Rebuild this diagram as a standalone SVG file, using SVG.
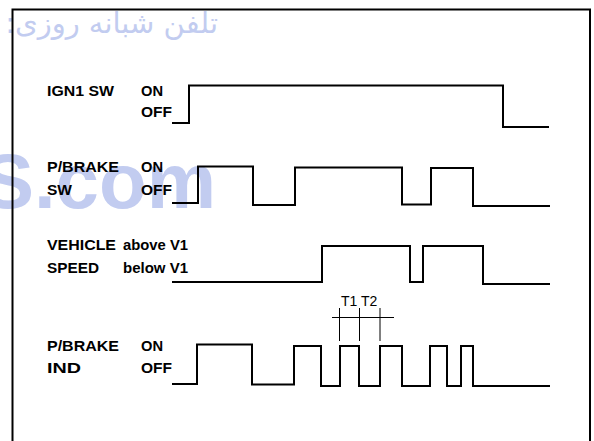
<svg xmlns="http://www.w3.org/2000/svg" width="594" height="441" viewBox="0 0 594 441">
<style>
.lbl{font-family:"Liberation Sans",Arial,sans-serif;font-weight:bold;font-size:14px;fill:#000}
.tl{font-family:"Liberation Sans",Arial,sans-serif;font-size:14px;fill:#000}
.wave{fill:none;stroke:#000;stroke-width:2;stroke-linejoin:miter}
.tick{fill:none;stroke:#000;stroke-width:1}
.wm{fill:#c2ccf0}
</style>
<rect x="0" y="0" width="594" height="441" fill="#fff"/>
<g id="watermark">
<text class="wm" x="218" y="33" direction="rtl" text-anchor="start" style="font-family:'DejaVu Sans',sans-serif;font-size:29px;unicode-bidi:embed">تلفن شبانه روزی:</text>
<text class="wm" x="216" y="208" text-anchor="end" style="font-family:'Liberation Sans',Arial,sans-serif;font-weight:bold;font-size:78px">S.com</text>
</g>
<g id="frame">
<path d="M12.5,445 V9.5 H590 V445" fill="none" stroke="#000" stroke-width="2"/>
</g>
<g id="ign1">
<text class="lbl" x="47" y="96" textLength="67" lengthAdjust="spacingAndGlyphs">IGN1 SW</text>
<text class="lbl" x="141" y="96" textLength="22" lengthAdjust="spacingAndGlyphs">ON</text>
<text class="lbl" x="141" y="117" textLength="31" lengthAdjust="spacingAndGlyphs">OFF</text>
</g>
<g id="pbrake-sw">
<text class="lbl" x="47" y="172" textLength="72" lengthAdjust="spacingAndGlyphs">P/BRAKE</text>
<text class="lbl" x="47" y="195" textLength="25" lengthAdjust="spacingAndGlyphs">SW</text>
<text class="lbl" x="141" y="172" textLength="22" lengthAdjust="spacingAndGlyphs">ON</text>
<text class="lbl" x="141" y="195" textLength="31" lengthAdjust="spacingAndGlyphs">OFF</text>
</g>
<g id="vehicle-speed">
<text class="lbl" x="47" y="250" textLength="69" lengthAdjust="spacingAndGlyphs">VEHICLE</text>
<text class="lbl" x="47" y="273" textLength="52" lengthAdjust="spacingAndGlyphs">SPEED</text>
<text class="lbl" x="123" y="250" textLength="65" lengthAdjust="spacingAndGlyphs">above V1</text>
<text class="lbl" x="123" y="273" textLength="65" lengthAdjust="spacingAndGlyphs">below V1</text>
</g>
<g id="pbrake-ind">
<text class="lbl" x="47" y="351" textLength="72" lengthAdjust="spacingAndGlyphs">P/BRAKE</text>
<text class="lbl" x="47" y="373" textLength="34" lengthAdjust="spacingAndGlyphs">IND</text>
<text class="lbl" x="141" y="351" textLength="22" lengthAdjust="spacingAndGlyphs">ON</text>
<text class="lbl" x="141" y="373" textLength="31" lengthAdjust="spacingAndGlyphs">OFF</text>
</g>
<g id="waveforms">
<path class="wave" d="M172,123 H189 V85.5 H503 V127 H549"/>
<path class="wave" d="M172,203 H198 V166.5 H253 V205 H295 V167.5 H402 V204.5 H431 V168 H473 V206 H550"/>
<path class="wave" d="M172,282 H322 V246 H410 V282 H423 V246 H483 V284 H550"/>
<path class="wave" d="M172,384 H197 V344.5 H252 V384.5 H294 V346 H321 V386 H340 V346 H359 V386 H380 V346 H402 V386 H430 V346 H447 V386 H461 V346 H473 V386 H550"/>
</g>
<g id="timing">
<path class="tick" d="M332,317.5 H394 M339.5,308 V341 M359.5,308 V341 M380,308 V341"/>
<text class="tl" x="341" y="306">T1</text>
<text class="tl" x="361" y="306">T2</text>
</g>
</svg>
